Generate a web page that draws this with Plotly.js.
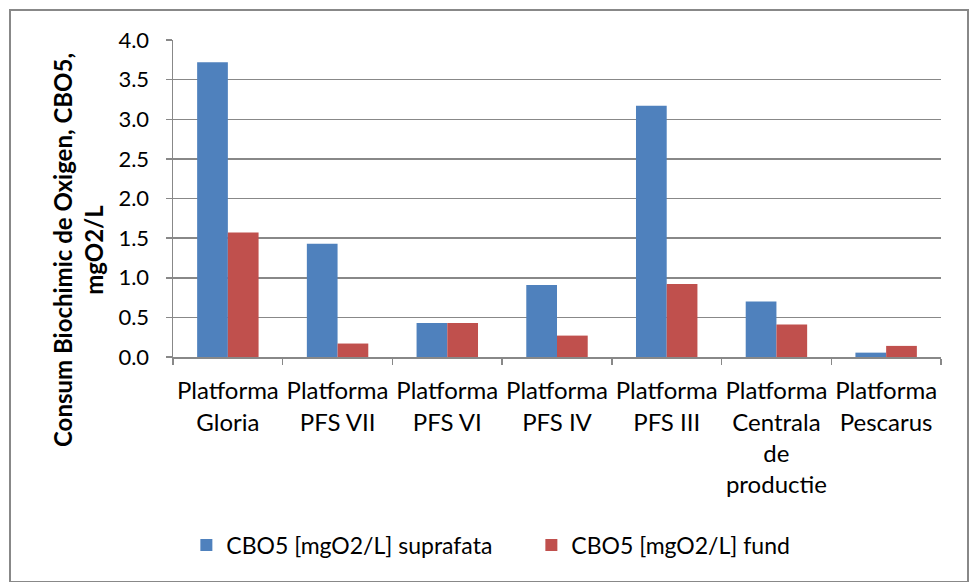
<!DOCTYPE html>
<html>
<head>
<meta charset="utf-8">
<script src="https://cdn.plot.ly/plotly-3.0.1.min.js"></script>
<style>
  html, body { margin: 0; padding: 0; background: #fff; }
  #wrap { position: relative; width: 969px; height: 582px; overflow: hidden; }
  #chart { width: 969px; height: 582px; }
  #frame { position: absolute; left: 9px; top: 9px; width: 956px; height: 570px;
           border: 2px solid #888; pointer-events: none; }
</style>
</head>
<body>
<div id="wrap">
  <div id="chart"></div>
  <div id="frame"></div>
</div>
<script>
const categories = [
  "Platforma<br>Gloria",
  "Platforma<br>PFS VII",
  "Platforma<br>PFS VI",
  "Platforma<br>PFS IV",
  "Platforma<br>PFS III",
  "Platforma<br>Centrala<br>de<br>productie",
  "Platforma<br>Pescarus"
];
const suprafata = [3.72, 1.43, 0.43, 0.91, 3.17, 0.70, 0.055];
const fund = [1.57, 0.17, 0.43, 0.27, 0.92, 0.41, 0.14];
const seriesNames = ["CBO5 [mgO2/L] suprafata", "CBO5 [mgO2/L] fund"];
const yTickVals = [0, 0.5, 1, 1.5, 2, 2.5, 3, 3.5, 4];
const yTickText = ["0.0", "0.5", "1.0", "1.5", "2.0", "2.5", "3.0", "3.5", "4.0"];
const yTitle = "Consum Biochimic de Oxigen, CBO5,<br>mgO2/L";

const FONT = "Lato, 'Liberation Sans', sans-serif";

const data = [
  { type: "bar", x: categories, y: suprafata, name: seriesNames[0],
    marker: { color: "#4F81BD" }, hoverinfo: "y" },
  { type: "bar", x: categories, y: fund, name: seriesNames[1],
    marker: { color: "#C0504D" }, hoverinfo: "y" }
];

const layout = {
  width: 969, height: 582,
  margin: { l: 173, r: 28, t: 40, b: 225 },
  paper_bgcolor: "#fff", plot_bgcolor: "#fff",
  barmode: "group", bargap: 0.44, bargroupgap: 0,
  font: { family: FONT, size: 22, color: "#000" },
  showlegend: true,
  legend: {
    orientation: "h", x: 0.0174, xanchor: "left", y: -0.593, yanchor: "middle",
    font: { family: FONT, size: 23, color: "#000" },
    entrywidth: 300, entrywidthmode: "pixels"
  },
  xaxis: {
    type: "category",
    showline: true, linecolor: "#888", linewidth: 1.5,
    ticks: "outside", tickson: "boundaries", ticklen: 6, tickcolor: "#888", tickwidth: 1.5,
    showgrid: false, tickangle: 0,
    ticklabelstandoff: 12,
    tickfont: { family: FONT, size: 24, color: "#000" }
  },
  yaxis: {
    range: [0, 4], tickvals: yTickVals, ticktext: yTickText,
    showline: true, linecolor: "#888", linewidth: 1.5,
    ticks: "outside", ticklen: 6, tickcolor: "#888", tickwidth: 1.5,
    showgrid: true, gridcolor: "#888", gridwidth: 1.5,
    zeroline: false,
    ticklabelstandoff: 12,
    tickfont: { family: FONT, size: 22, color: "#000" }
  },
  annotations: [{
    text: yTitle, xref: "paper", yref: "paper", x: 0, y: 0.3375,
    xanchor: "center", yanchor: "middle", xshift: -95, textangle: -90,
    showarrow: false, align: "center",
    font: { family: FONT, size: 24, color: "#000", weight: "bold" }
  }]
};

Plotly.newPlot("chart", data, layout, { displayModeBar: false, staticPlot: true });
</script>
</body>
</html>
